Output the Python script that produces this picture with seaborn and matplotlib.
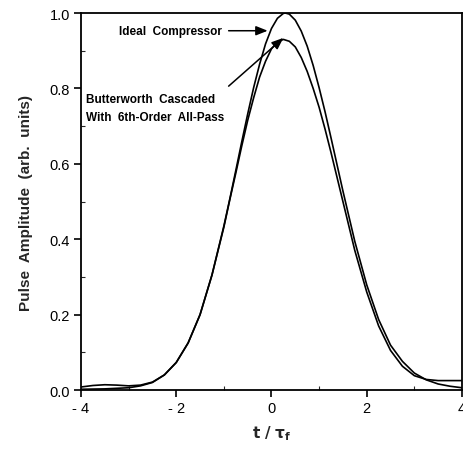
import matplotlib
matplotlib.use("Agg")
import matplotlib.pyplot as plt
import numpy as np
import pandas as pd
import seaborn as sns

# Normalised time axis t / tau_f
t_ideal = [-4.0, -3.5, -3.0, -2.75, -2.5, -2.25, -2.0, -1.75, -1.5, -1.25,
           -1.0, -0.875, -0.75, -0.625, -0.5, -0.375, -0.25, -0.125, 0.0, 0.125,
           0.25, 0.29, 0.375, 0.5, 0.625, 0.75, 0.875, 1.0, 1.125, 1.25,
           1.5, 1.75, 2.0, 2.25, 2.5, 2.75, 3.0, 3.25, 3.5, 3.75, 4.0]
ideal = [0.002, 0.003, 0.006, 0.011, 0.020, 0.040, 0.073, 0.125, 0.200, 0.305,
         0.435, 0.507, 0.582, 0.658, 0.732, 0.802, 0.864, 0.918, 0.959, 0.986,
         0.999, 1.000, 0.997, 0.981, 0.952, 0.912, 0.861, 0.802, 0.738, 0.669,
         0.528, 0.394, 0.279, 0.187, 0.119, 0.076, 0.045, 0.027, 0.016, 0.010, 0.006]

t_butter = [-4.0, -3.75, -3.5, -3.25, -3.0, -2.75, -2.5, -2.25, -2.0, -1.75,
            -1.5, -1.25, -1.0, -0.875, -0.75, -0.625, -0.5, -0.375, -0.25, -0.125,
            0.0, 0.125, 0.25, 0.375, 0.5, 0.625, 0.75, 0.875, 1.0, 1.125,
            1.25, 1.5, 1.75, 2.0, 2.25, 2.5, 2.75, 3.0, 3.25, 3.5, 3.75, 4.0]
butter = [0.008, 0.012, 0.014, 0.013, 0.011, 0.013, 0.021, 0.040, 0.073, 0.125,
          0.200, 0.305, 0.432, 0.505, 0.575, 0.647, 0.715, 0.775, 0.830, 0.872,
          0.905, 0.923, 0.930, 0.925, 0.910, 0.882, 0.845, 0.800, 0.750, 0.692,
          0.630, 0.500, 0.370, 0.260, 0.170, 0.105, 0.063, 0.038, 0.028, 0.025,
          0.025, 0.025]

x_ticks = [-4, -2, 0, 2, 4]
x_tick_labels = ["- 4", "- 2", "0", "2", "4"]
y_ticks = [0.0, 0.2, 0.4, 0.6, 0.8, 1.0]
y_tick_labels = ["0.0", "0.2", "0.4", "0.6", "0.8", "1.0"]

df = pd.concat([
    pd.DataFrame({"t": t_ideal, "amp": ideal, "series": "Ideal Compressor"}),
    pd.DataFrame({"t": t_butter, "amp": butter, "series": "Butterworth"}),
], ignore_index=True)

sns.set_style("ticks")
plt.rcParams["font.family"] = ["Liberation Sans", "DejaVu Sans"]

fig = plt.figure(figsize=(4.64, 4.64), dpi=100)
ax = fig.add_axes([0.1746, 0.1573, 0.821, 0.8125])

sns.lineplot(data=df, x="t", y="amp", hue="series", units="series",
             estimator=None, sort=False, palette=["black", "black"],
             linewidth=1.2, legend=False, ax=ax)

ax.set_xlim(-4, 4)
ax.set_ylim(0, 1.0)
ax.set_xticks(x_ticks)
ax.set_xticklabels(x_tick_labels)
ax.set_yticks(y_ticks)
ax.set_yticklabels(y_tick_labels)
ax.set_xticks([-3, -1, 1, 3], minor=True)
ax.set_yticks([0.1, 0.3, 0.5, 0.7, 0.9], minor=True)
ax.tick_params(which="major", direction="out", length=5, width=1.2,
               labelsize=10.5, colors="black", pad=3)
ax.tick_params(which="minor", direction="in", length=3, width=0.8)

for side in ["left", "bottom", "right", "top"]:
    ax.spines[side].set_visible(True)
    ax.spines[side].set_color("black")
    ax.spines[side].set_linewidth(1.3)

ax.set_xlabel(r"$\mathbf{t\ /\ \tau_f}$", fontsize=11, labelpad=6)
ax.set_ylabel("Pulse  Amplitude  (arb.  units)", fontsize=11,
              fontweight="bold", labelpad=12)

txt_kw = dict(fontsize=8.5, fontweight="bold", color="black")
arrow_kw = dict(arrowstyle="-|>,head_length=0.7,head_width=0.28",
                color="black", lw=1.1, shrinkA=0, shrinkB=0)

ax.text(-1.05, 0.953, "Ideal  Compressor", ha="right", va="center", **txt_kw)
ax.annotate("", xy=(-0.08, 0.953), xytext=(-0.90, 0.953), arrowprops=arrow_kw)

ax.text(-3.89, 0.772, "Butterworth  Cascaded", ha="left", va="center", **txt_kw)
ax.text(-3.89, 0.724, "With  6th-Order  All-Pass", ha="left", va="center", **txt_kw)
ax.annotate("", xy=(0.25, 0.934), xytext=(-0.90, 0.806), arrowprops=arrow_kw)

fig.savefig("out.png", dpi=100)
